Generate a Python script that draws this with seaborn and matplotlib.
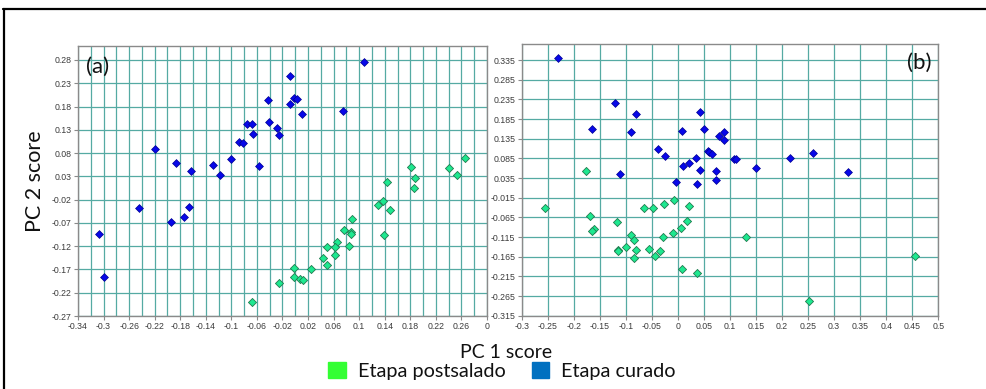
import matplotlib
matplotlib.use("Agg")
import matplotlib.pyplot as plt
from matplotlib.patches import Patch
from matplotlib.lines import Line2D
import pandas as pd
import seaborn as sns

# ---- PCA scores, panel (a) ----
a_curado_pc1 = [0.107, -0.009, -0.002, 0.003, -0.008, 0.011, 0.075, -0.043, -0.041, -0.029,
                -0.025, -0.076, -0.067, -0.066, -0.088, -0.082, -0.057, -0.101, -0.128, -0.118,
                -0.219, -0.187, -0.163, -0.245, -0.166, -0.174, -0.194, -0.307, -0.299]
a_curado_pc2 = [0.275, 0.246, 0.198, 0.196, 0.185, 0.164, 0.171, 0.194, 0.147, 0.134,
                0.119, 0.142, 0.142, 0.121, 0.103, 0.101, 0.053, 0.067, 0.055, 0.033,
                0.088, 0.058, 0.042, -0.039, -0.035, -0.057, -0.067, -0.094, -0.187]
a_post_pc1 = [0.265, 0.240, 0.253, 0.181, 0.188, 0.186, 0.143, 0.137, 0.130, 0.148,
              0.139, 0.088, 0.077, 0.087, 0.087, 0.084, 0.065, 0.062, 0.050, 0.062,
              0.043, 0.049, 0.024, -0.002, -0.002, 0.007, 0.012, -0.026, -0.067]
a_post_pc2 = [0.070, 0.047, 0.033, 0.050, 0.027, 0.004, 0.017, -0.023, -0.032, -0.042,
              -0.096, -0.062, -0.086, -0.090, -0.094, -0.119, -0.112, -0.122, -0.122, -0.138,
              -0.145, -0.161, -0.169, -0.167, -0.187, -0.191, -0.192, -0.200, -0.240]

# ---- PCA scores, panel (b) ----
b_curado_pc1 = [-0.230, -0.121, -0.080, -0.165, -0.090, -0.112, -0.039, -0.025, 0.043, 0.007,
                0.050, 0.088, 0.078, 0.089, 0.057, 0.060, 0.065, 0.034, 0.021, 0.009,
                0.042, 0.074, 0.073, 0.037, -0.004, 0.107, 0.111, 0.150, 0.216, 0.259, 0.327]
b_curado_pc2 = [0.339, 0.226, 0.199, 0.160, 0.151, 0.044, 0.110, 0.092, 0.202, 0.154,
                0.159, 0.153, 0.143, 0.132, 0.105, 0.101, 0.096, 0.087, 0.073, 0.066,
                0.055, 0.054, 0.031, 0.021, 0.024, 0.084, 0.084, 0.060, 0.085, 0.098, 0.050]
b_post_pc1 = [-0.177, -0.007, -0.256, -0.066, -0.047, -0.027, 0.021, -0.168, -0.117, 0.017,
              0.005, -0.009, -0.029, -0.161, -0.165, -0.091, -0.084, -0.099, -0.115, -0.115,
              -0.080, -0.055, -0.034, -0.044, -0.085, 0.007, 0.036, 0.130, 0.455, 0.252]
b_post_pc2 = [0.054, -0.021, -0.040, -0.041, -0.041, -0.032, -0.036, -0.061, -0.078, -0.075,
              -0.092, -0.106, -0.115, -0.095, -0.100, -0.110, -0.123, -0.140, -0.148, -0.150,
              -0.148, -0.145, -0.151, -0.163, -0.169, -0.197, -0.206, -0.115, -0.162, -0.278]

# ---- axis ticks and labels ----
a_xticks = [-0.34, -0.30, -0.26, -0.22, -0.18, -0.14, -0.10, -0.06, -0.02,
            0.02, 0.06, 0.10, 0.14, 0.18, 0.22, 0.26, 0.30]
a_xticklabels = ["-0.34", "-0.3", "-0.26", "-0.22", "-0.18", "-0.14", "-0.1", "-0.06", "-0.02",
                 "0.02", "0.06", "0.1", "0.14", "0.18", "0.22", "0.26", "0"]
a_yticks = [0.28, 0.23, 0.18, 0.13, 0.08, 0.03, -0.02, -0.07, -0.12, -0.17, -0.22, -0.27]
a_yticklabels = ["0.28", "0.23", "0.18", "0.13", "0.08", "0.03", "-0.02", "-0.07",
                 "-0.12", "-0.17", "-0.22", "-0.27"]
b_xticks = [-0.30, -0.25, -0.20, -0.15, -0.10, -0.05, 0.0, 0.05, 0.10, 0.15,
            0.20, 0.25, 0.30, 0.35, 0.40, 0.45, 0.50]
b_xticklabels = ["-0.3", "-0.25", "-0.2", "-0.15", "-0.1", "-0.05", "0", "0.05", "0.1", "0.15",
                 "0.2", "0.25", "0.3", "0.35", "0.4", "0.45", "0.5"]
b_yticks = [0.335, 0.285, 0.235, 0.185, 0.135, 0.085, 0.035, -0.015, -0.065,
            -0.115, -0.165, -0.215, -0.265, -0.315]
b_yticklabels = ["0.335", "0.285", "0.235", "0.185", "0.135", "0.085", "0.035", "-0.015",
                 "-0.065", "-0.115", "-0.165", "-0.215", "-0.265", "-0.315"]

stages = ["Etapa postsalado", "Etapa curado"]
legend_colors = ["#33ff33", "#0070c0"]

GRID = "#55aaa3"
SPINE = "#8a8a8a"
TICKTXT = "#3c3c3c"
BLUE_FACE, BLUE_EDGE = "#0808e8", "#000090"
GREEN_FACE, GREEN_EDGE = "#1ee890", "#1f7a4e"


def frame(pc1, pc2, stage):
    return pd.DataFrame({"pc1": pc1, "pc2": pc2, "etapa": stage})


sns.set_theme(style="white")
plt.rcParams["font.family"] = ["Lato", "DejaVu Sans"]

fig = plt.figure(figsize=(9.87, 3.89), dpi=100)
W, H = 987.0, 389.0

ax_a = fig.add_axes([78 / W, 1 - 316 / H, 409 / W, 270 / H])
ax_b = fig.add_axes([521.7 / W, 1 - 315.7 / H, 416.6 / W, 271.4 / H])

panels = [
    (ax_a, frame(a_post_pc1, a_post_pc2, stages[0]), frame(a_curado_pc1, a_curado_pc2, stages[1]),
     (-0.34, 0.30), (-0.27, 0.31), a_xticks, a_xticklabels, a_yticks, a_yticklabels, 0.02),
    (ax_b, frame(b_post_pc1, b_post_pc2, stages[0]), frame(b_curado_pc1, b_curado_pc2, stages[1]),
     (-0.30, 0.50), (-0.315, 0.375), b_xticks, b_xticklabels, b_yticks, b_yticklabels, None),
]

for ax, post, cur, xl, yl, xt, xtl, yt, ytl, xminor in panels:
    sns.scatterplot(data=cur, x="pc1", y="pc2", ax=ax, marker="D", s=16,
                    color=BLUE_FACE, edgecolor=BLUE_EDGE, linewidth=0.5, legend=False, zorder=3)
    sns.scatterplot(data=post, x="pc1", y="pc2", ax=ax, marker="D", s=17,
                    color=GREEN_FACE, edgecolor=GREEN_EDGE, linewidth=0.6, legend=False, zorder=3)
    ax.set_xlim(*xl)
    ax.set_ylim(*yl)
    ax.set_xticks(xt)
    ax.set_xticklabels(xtl)
    ax.set_yticks(yt)
    ax.set_yticklabels(ytl)
    if xminor is not None:
        ax.set_xticks([v + xminor for v in xt[:-1]], minor=True)
    ax.grid(True, which="both", color=GRID, linewidth=0.9)
    ax.set_axisbelow(True)
    ax.set_xlabel("")
    ax.set_ylabel("")
    for sp in ax.spines.values():
        sp.set_color(SPINE)
        sp.set_linewidth(1.0)
    ax.tick_params(which="major", direction="out", length=3, width=0.8, color=SPINE,
                   labelsize=6.3, labelcolor=TICKTXT, pad=1.5, bottom=True, left=True)
    ax.tick_params(which="minor", length=0)
    for lab in ax.get_xticklabels() + ax.get_yticklabels():
        lab.set_family(["Liberation Sans", "DejaVu Sans"])

# panel tags
fig.text(86 / W, 1 - 67 / H, "(a)", ha="left", va="center", fontsize=16, color="#111111")
fig.text(932 / W, 1 - 63 / H, "(b)", ha="right", va="center", fontsize=16, color="#111111")

# axis titles
fig.text(35 / W, 1 - 181 / H, "PC 2 score", rotation=90, ha="center", va="center",
         fontsize=15.5, color="#111111")
fig.text(506 / W, 1 - 352 / H, "PC 1 score", ha="center", va="center",
         fontsize=14, color="#111111")

# legend
handles = [Patch(facecolor=c, edgecolor=c) for c in legend_colors]
fig.legend(handles, stages, loc="center", bbox_to_anchor=(502 / W, 1 - 371 / H),
           ncol=2, frameon=False, fontsize=14.3, handlelength=0.9, handleheight=0.9,
           handletextpad=0.6, columnspacing=1.3, borderpad=0, labelcolor="#111111")

# outer frame (top and left edges)
fig.add_artist(Line2D([3 / W, 1.0], [1 - 9 / H, 1 - 9 / H], transform=fig.transFigure,
                      color="black", linewidth=1.6))
fig.add_artist(Line2D([4 / W, 4 / W], [0.0, 1 - 9 / H], transform=fig.transFigure,
                      color="black", linewidth=1.6))

fig.savefig("out.png", dpi=100, facecolor="white")
